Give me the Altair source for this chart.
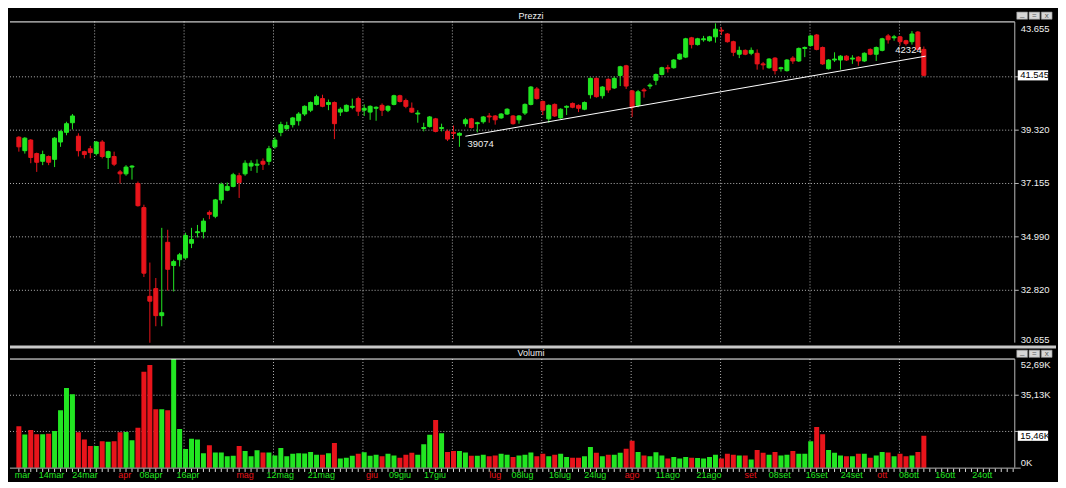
import altair as alt
import pandas as pd

# ---------------- data ----------------
opens = [39035, 38487, 38918, 38369, 38056, 38252, 38135, 38839, 39231, 39622,
         39074, 38448, 38565, 38369, 38839, 38213, 38252, 37626, 37547, 37821,
         37156, 36177, 32575, 32889, 31792, 34768, 33828, 34063, 34141, 34729,
         35159, 35199, 35981, 35825, 36490, 36882, 37038, 37469, 37547, 37861,
         37900, 38056, 38056, 38643, 39231, 39387, 39544, 39701, 39975, 40131,
         40366, 40601, 40366, 40444, 40053, 40092, 40249, 40601, 40131, 40053,
         40209, 40327, 40131, 40366, 40718, 40523, 40209, 39975, 39387, 39466,
         39779, 39387, 39270, 39231, 39113, 39583, 39779, 39583, 39661, 39896,
         39896, 39818, 39975, 39896, 39740, 40014, 40366, 40992, 40484, 39779,
         40366, 39818, 40249, 40405, 40327, 40170, 40758, 41423, 40718, 41384,
         41032, 41541, 41932, 40914, 40327, 40953, 41110, 41345, 41580, 41854,
         41854, 42206, 42285, 43068, 42793, 42989, 42950, 43107, 43381, 43224,
         42911, 42402, 42559, 42441, 42441, 42010, 41854, 42245, 41815, 41736,
         42245, 42128, 42637, 42754, 43185, 42676, 41815, 42167, 42167, 42324,
         42206, 42285, 42128, 42598, 42402, 42559, 43146, 43068, 43107, 42950,
         42911, 43302, 42598]
highs = [39074, 39035, 38957, 38409, 38487, 38291, 39035, 39309, 39661, 39975,
         39192, 38487, 38683, 38878, 38918, 38487, 38448, 37704, 37900, 37900,
         37234, 36294, 33946, 33319, 35355, 35277, 34063, 34337, 35159, 35355,
         35473, 35747, 36060, 36529, 37195, 37195, 37587, 37587, 38096, 38096,
         38135, 38174, 38683, 39035, 39661, 39661, 39857, 40053, 40327, 40484,
         40758, 40758, 40562, 40484, 40249, 40366, 40601, 40679, 40366, 40327,
         40288, 40405, 40327, 40758, 40758, 40601, 40444, 40131, 39622, 39896,
         39818, 39583, 39348, 39505, 39231, 39818, 39818, 39661, 39896, 40014,
         39935, 40014, 40209, 39935, 39935, 40405, 41110, 41071, 40523, 40366,
         40405, 40209, 40327, 40444, 40366, 40484, 41462, 41462, 41110, 41423,
         41502, 41932, 41971, 40953, 40953, 41032, 41227, 41619, 41893, 41971,
         42206, 42441, 43068, 43107, 43068, 43146, 43146, 43655, 43498, 43263,
         42950, 42715, 42598, 42676, 42598, 42089, 42245, 42285, 41893, 42206,
         42324, 42676, 42715, 43185, 43224, 42715, 42206, 42480, 42363, 42363,
         42363, 42324, 42480, 42637, 42715, 43068, 43224, 43185, 43146, 42989,
         43342, 43342, 42715]
lows = [38448, 38369, 37978, 37626, 37900, 37900, 37821, 38643, 39113, 39348,
        38252, 38174, 38174, 38291, 38174, 37743, 37861, 37156, 37469, 37313,
        36216, 33358, 30657, 31361, 31361, 32810, 32771, 33789, 34063, 34533,
        34964, 34924, 35707, 35747, 36334, 36843, 36999, 36568, 37469, 37665,
        37587, 37704, 37900, 38565, 39074, 39309, 39427, 39505, 39896, 40053,
        40327, 40249, 40131, 38957, 39896, 40053, 40170, 39896, 39896, 39740,
        39701, 39896, 40053, 40327, 40444, 40209, 40014, 39622, 39270, 39427,
        39231, 39270, 38878, 38957, 38643, 39466, 39387, 39231, 39583, 39622,
        39544, 39779, 39935, 39544, 39583, 39935, 40327, 40562, 39935, 39622,
        39857, 39779, 39935, 40209, 40053, 40131, 40601, 40640, 40601, 40836,
        40992, 41110, 40992, 39857, 40249, 40640, 40992, 41149, 41541, 41658,
        41815, 42167, 42245, 42637, 42754, 42911, 42911, 42872, 43185, 42872,
        42324, 42245, 42363, 42363, 41776, 41776, 41815, 41580, 41697, 41697,
        42010, 42089, 42285, 42715, 42559, 41971, 41776, 42089, 41776, 42128,
        42010, 41932, 42089, 42363, 42128, 42519, 42833, 42950, 42754, 42754,
        42793, 42559, 41502]
closes = [38643, 38996, 38213, 38017, 38330, 38017, 38996, 39270, 39583, 39896,
          38487, 38330, 38409, 38839, 38252, 38448, 37939, 37547, 37821, 37861,
          36255, 33515, 32379, 31792, 31909, 33672, 33985, 34259, 35042, 34885,
          35199, 35629, 35903, 36490, 37117, 37038, 37508, 37195, 37978, 37978,
          37939, 37939, 38565, 38918, 39544, 39505, 39818, 39975, 40288, 40444,
          40679, 40288, 40444, 39583, 40170, 40327, 40288, 40092, 40209, 40288,
          40249, 40131, 40288, 40718, 40484, 40288, 40053, 40014, 39427, 39857,
          39270, 39427, 38957, 39192, 39192, 39740, 39427, 39622, 39857, 39857,
          39740, 39975, 40170, 39583, 39896, 40366, 41071, 40601, 40131, 40327,
          39896, 40170, 40288, 40249, 40209, 40444, 41423, 40679, 41071, 40953,
          41423, 41893, 41110, 40249, 40875, 40914, 41149, 41580, 41854, 41815,
          42167, 42402, 43028, 42793, 43028, 43028, 43107, 43420, 43342, 42911,
          42480, 42559, 42402, 42559, 42010, 41971, 42206, 41736, 41854, 42167,
          42128, 42637, 42676, 43146, 42598, 42010, 42167, 42206, 42324, 42167,
          42245, 42128, 42441, 42402, 42676, 43028, 42989, 43107, 42911, 42833,
          43224, 42598, 41545]
volumes_k = [20.1, 16.1, 18.3, 16.2, 16.2, 16.5, 17.8, 27.8, 38.6, 35.6,
             17.2, 13.7, 10.5, 10.5, 12.8, 12.5, 12.8, 17.2, 17.3, 13.3,
             19.4, 46.5, 49.8, 28.3, 28.3, 27.8, 52.69, 18.7, 9.1, 14.0,
             13.6, 7.0, 10.9, 7.3, 7.3, 5.5, 5.8, 10.5, 8.1, 5.5,
             8.4, 7.3, 7.3, 5.9, 9.5, 5.5, 6.7, 7.0, 6.9, 7.6,
             6.2, 6.2, 7.0, 11.9, 4.4, 4.8, 5.8, 6.7, 7.5, 5.8,
             6.2, 5.5, 6.7, 5.9, 4.8, 6.2, 7.2, 6.2, 11.4, 15.9,
             23.1, 16.7, 7.6, 8.1, 8.1, 7.3, 5.8, 5.8, 6.2, 5.5,
             5.9, 6.7, 6.2, 5.2, 5.9, 6.2, 7.3, 5.5, 6.7, 5.5,
             6.2, 6.7, 5.2, 4.8, 4.8, 5.5, 10.0, 7.2, 5.5, 6.2,
             6.2, 7.2, 9.2, 13.0, 7.6, 5.9, 5.5, 7.5, 5.9, 4.4,
             5.2, 4.4, 5.2, 4.8, 4.7, 4.4, 5.2, 6.2, 4.4, 6.7,
             6.2, 5.9, 5.9, 3.9, 8.6, 7.2, 6.2, 7.6, 5.9, 6.2,
             8.1, 6.7, 6.7, 12.8, 19.7, 16.2, 8.6, 7.2, 5.9, 5.5,
             5.5, 6.7, 6.7, 4.8, 5.9, 7.6, 7.3, 5.5, 6.7, 5.5,
             5.9, 7.6, 15.46]

price_ticks = [43655, 39320, 37155, 34990, 32820, 30655]
price_tick_text = ["43.655", "39.320", "37.155", "34.990", "32.820", "30.655"]
price_grid = [41485, 39320, 37155, 34990, 32820]
last_price_text = "41.545"
vol_ticks = [52.69, 35.13, 0]
vol_tick_text = ["52,69K", "35,13K", "0K"]
vol_grid = [35.13, 17.56]
last_vol_text = "15,46K"
vgrid_slots = [12.73, 27.75, 42.77, 57.79, 72.81, 87.83, 102.84, 117.86, 132.88, 147.9]
date_labels = ["mar", "14mar", "24mar", "apr", "08apr", "16apr", "mag", "12mag", "21mag",
               "giu", "09giu", "17giu", "lug", "08lug", "16lug", "24lug", "ago", "11ago",
               "21ago", "set", "08set", "16set", "24set", "ott", "08ott", "16ott", "24ott"]
date_label_slots = [0.6, 5.47, 11.1, 17.8, 22.2, 28.4, 38.0, 43.9, 50.8,
                    59.3, 64.0, 69.9, 80.0, 84.6, 90.9, 96.8, 103.0, 109.0,
                    115.9, 122.9, 127.8, 134.0, 139.9, 145.0, 149.5, 155.6, 161.8]
month_labels = ["apr", "mag", "giu", "lug", "ago", "set", "ott"]
axis_tick_slots = list(range(168))
trend_slots = [75.0, 152.3]
trend_values = [39074, 42324]

# ---------------- layout / style ----------------
W, HP, HV = 1050, 335, 137
SX = W / 1066.0
SYP = HP / 346.0
SYV = HV / 142.0
X_DOMAIN = [-0.653, 173.36]
P_DOMAIN = [30696, 44242]
V_DOMAIN = [-6.53, 59.68]
GREEN, RED = "#22e622", "#e8141b"
GRID = "#b4b4b4"
AXIS = "#b8b8b8"
TXT = "#f0f0f0"
FONT = "Liberation Sans"
NARROW = "Liberation Sans Narrow, Liberation Sans"


def px(x):
    return x * SX


def pyp(y):
    return y * SYP


def pyv(y):
    return (y - 346) * SYV


xs = alt.Scale(domain=X_DOMAIN, nice=False, zero=False)
ps = alt.Scale(domain=P_DOMAIN, nice=False, zero=False)
vs = alt.Scale(domain=V_DOMAIN, nice=False, zero=False)
dir_scale = alt.Scale(domain=["up", "down"], range=[GREEN, RED])

df = pd.DataFrame({"slot": list(range(len(opens))), "open": opens, "high": highs,
                   "low": lows, "close": closes, "vol": volumes_k})
df["dir"] = ["up" if c >= o else "down" for o, c in zip(opens, closes)]
one = pd.DataFrame({"k": [0]})

XS = alt.X("slot:Q", scale=xs, axis=None)
BTN = "M-1,-0.67H1V0.67H-1Z"
BOX = "M-1,-0.334H1V0.334H-1Z"


def buttons(yc):
    out = []
    for xr, g in zip([1031.5, 1044.0, 1056.5], ["_", "=", "x"]):
        out.append(alt.Chart(one).mark_point(shape=BTN, filled=True, size=117, color="#d6d6d6",
                                             stroke="#8a8a8a", strokeWidth=0.6, opacity=1)
                   .encode(x=alt.value(px(xr)), y=alt.value(yc)))
        out.append(alt.Chart(one).mark_text(text=g, color="#5a5a5a", fontSize=8, font=FONT,
                                            align="center", baseline="middle")
                   .encode(x=alt.value(px(xr)), y=alt.value(yc - (2 if g == "_" else 0))))
    return out


# ---------------- price panel ----------------
p_hgrid = alt.Chart(pd.DataFrame({"v": price_grid})).mark_rule(
    color=GRID, strokeDash=[1, 2], strokeWidth=1).encode(
    x=alt.value(0), x2=alt.value(px(1024)), y=alt.Y("v:Q", scale=ps, axis=None))
p_vgrid = alt.Chart(pd.DataFrame({"s": vgrid_slots})).mark_rule(
    color=GRID, strokeDash=[1, 2], strokeWidth=1).encode(
    x=alt.X("s:Q", scale=xs, axis=None), y=alt.value(pyp(13)), y2=alt.value(HP))
wick = alt.Chart(df).mark_rule(strokeWidth=1, clip=True).encode(
    x=XS, y=alt.Y("low:Q", scale=ps, axis=None), y2="high:Q",
    color=alt.Color("dir:N", scale=dir_scale, legend=None))
body = alt.Chart(df).mark_bar(size=4, strokeWidth=1, clip=True).encode(
    x=XS, y=alt.Y("open:Q", scale=ps, axis=None), y2="close:Q",
    fill=alt.Fill("dir:N", scale=dir_scale, legend=None),
    stroke=alt.Stroke("dir:N", scale=dir_scale, legend=None))

tr = pd.DataFrame({"s": trend_slots, "v": trend_values})
trend = alt.Chart(tr).mark_line(color="white", strokeWidth=1).encode(
    x=alt.X("s:Q", scale=xs, axis=None), y=alt.Y("v:Q", scale=ps, axis=None))
trend_l0 = alt.Chart(tr.iloc[[0]]).mark_text(
    align="left", baseline="top", dx=2, dy=3, color=TXT, fontSize=9.5, font=FONT).encode(
    x=alt.X("s:Q", scale=xs, axis=None), y=alt.Y("v:Q", scale=ps, axis=None),
    text=alt.Text("v:Q", format="d"))
trend_l1 = alt.Chart(tr.iloc[[1]]).mark_text(
    align="right", baseline="alphabetic", dx=-4, dy=-3, color=TXT, fontSize=9.5, font=FONT).encode(
    x=alt.X("s:Q", scale=xs, axis=None), y=alt.Y("v:Q", scale=ps, axis=None),
    text=alt.Text("v:Q", format="d"))

p_top = alt.Chart(one).mark_rule(color="white", strokeWidth=1).encode(
    x=alt.value(0), x2=alt.value(px(1024)), y=alt.value(pyp(13.5)))
p_axis = alt.Chart(one).mark_rule(color=AXIS, strokeWidth=1).encode(
    x=alt.value(px(1024)), y=alt.value(pyp(13.5)), y2=alt.value(HP))
p_ticks = alt.Chart(pd.DataFrame({"v": price_grid})).mark_rule(color=AXIS).encode(
    x=alt.value(px(1024)), x2=alt.value(px(1028)), y=alt.Y("v:Q", scale=ps, axis=None))

pl = pd.DataFrame({"v": price_ticks, "t": price_tick_text})
lab_kw = dict(align="left", color=TXT, fontSize=9.5, font=FONT)
p_lab_top = alt.Chart(pl.iloc[[0]]).mark_text(baseline="top", dy=1, **lab_kw).encode(
    x=alt.value(px(1030)), y=alt.Y("v:Q", scale=ps, axis=None), text="t:N")
p_lab_mid = alt.Chart(pl.iloc[1:-1]).mark_text(baseline="middle", **lab_kw).encode(
    x=alt.value(px(1030)), y=alt.Y("v:Q", scale=ps, axis=None), text="t:N")
p_lab_bot = alt.Chart(pl.iloc[[-1]]).mark_text(baseline="alphabetic", dy=-1, **lab_kw).encode(
    x=alt.value(px(1030)), y=alt.Y("v:Q", scale=ps, axis=None), text="t:N")

lp = pd.DataFrame({"v": [closes[-1]], "t": [last_price_text]})
p_box = alt.Chart(lp).mark_point(shape=BOX, filled=True, size=930, color="white", opacity=1).encode(
    x=alt.value(px(1042.5)), y=alt.Y("v:Q", scale=ps, axis=None))
p_box_t = alt.Chart(lp).mark_text(align="left", baseline="middle", color="black",
                                  fontSize=9.5, font=FONT).encode(
    x=alt.value(px(1029.5)), y=alt.Y("v:Q", scale=ps, axis=None), text="t:N")

p_title = alt.Chart(one).mark_text(text="Prezzi", color=TXT, fontSize=9, font=FONT,
                                   align="center", baseline="middle").encode(
    x=alt.value(px(531)), y=alt.value(pyp(7.3)))

price = alt.layer(p_hgrid, p_vgrid, wick, body, trend, trend_l0, trend_l1, p_top, p_axis,
                  p_ticks, p_lab_top, p_lab_mid, p_lab_bot, p_box, p_box_t, p_title,
                  *buttons(pyp(7.0))).properties(width=W, height=HP)

# ---------------- volume panel ----------------
v_hgrid = alt.Chart(pd.DataFrame({"v": vol_grid})).mark_rule(
    color=GRID, strokeDash=[1, 2], strokeWidth=1).encode(
    x=alt.value(0), x2=alt.value(px(1024)), y=alt.Y("v:Q", scale=vs, axis=None))
v_vgrid = alt.Chart(pd.DataFrame({"s": vgrid_slots})).mark_rule(
    color=GRID, strokeDash=[1, 2], strokeWidth=1).encode(
    x=alt.X("s:Q", scale=xs, axis=None), y=alt.value(pyv(361)), y2=alt.value(pyv(474)))
v_bars = alt.Chart(df).mark_bar(size=5, clip=True).encode(
    x=XS, y=alt.Y("vol:Q", scale=vs, axis=None), y2=alt.datum(0),
    color=alt.Color("dir:N", scale=dir_scale, legend=None))
v_sep = alt.Chart(one).mark_rule(color="#c8c8c8", strokeWidth=3).encode(
    x=alt.value(0), x2=alt.value(W), y=alt.value(pyv(348.5)))
v_top = alt.Chart(one).mark_rule(color="white", strokeWidth=1).encode(
    x=alt.value(0), x2=alt.value(px(1024)), y=alt.value(pyv(361)))
v_axis = alt.Chart(one).mark_rule(color=AXIS, strokeWidth=1).encode(
    x=alt.value(px(1024)), y=alt.value(pyv(361)), y2=alt.value(pyv(474)))
v_base = alt.Chart(one).mark_rule(color=AXIS, strokeWidth=1).encode(
    x=alt.value(0), x2=alt.value(px(1030)), y=alt.value(pyv(474.5)))
v_xticks = alt.Chart(pd.DataFrame({"s": axis_tick_slots})).mark_rule(color="#d8d8d8", clip=True).encode(
    x=alt.X("s:Q", scale=xs, axis=None), y=alt.value(pyv(475)), y2=alt.value(pyv(478.5)))
dl = pd.DataFrame({"s": date_label_slots, "t": date_labels,
                   "k": ["month" if t in month_labels else "day" for t in date_labels]})
v_dates = alt.Chart(dl).mark_text(fontSize=9, font=NARROW, align="center", baseline="middle").encode(
    x=alt.X("s:Q", scale=xs, axis=None), y=alt.value(pyv(482)), text="t:N",
    color=alt.Color("k:N", scale=alt.Scale(domain=["day", "month"], range=["#eee2a0", "#d82020"]),
                    legend=None))
vl = pd.DataFrame({"v": vol_ticks, "t": vol_tick_text})
v_lab_top = alt.Chart(vl.iloc[[0]]).mark_text(baseline="top", dy=1, **lab_kw).encode(
    x=alt.value(px(1030)), y=alt.Y("v:Q", scale=vs, axis=None), text="t:N")
v_lab_mid = alt.Chart(vl.iloc[[1]]).mark_text(baseline="middle", **lab_kw).encode(
    x=alt.value(px(1030)), y=alt.Y("v:Q", scale=vs, axis=None), text="t:N")
v_lab_bot = alt.Chart(vl.iloc[[2]]).mark_text(baseline="alphabetic", dy=-2, **lab_kw).encode(
    x=alt.value(px(1030)), y=alt.Y("v:Q", scale=vs, axis=None), text="t:N")
v_ticks = alt.Chart(pd.DataFrame({"v": vol_grid})).mark_rule(color=AXIS).encode(
    x=alt.value(px(1024)), x2=alt.value(px(1028)), y=alt.Y("v:Q", scale=vs, axis=None))
lv = pd.DataFrame({"v": [volumes_k[-1]], "t": [last_vol_text]})
v_box = alt.Chart(lv).mark_point(shape=BOX, filled=True, size=930, color="white", opacity=1).encode(
    x=alt.value(px(1042.5)), y=alt.Y("v:Q", scale=vs, axis=None))
v_box_t = alt.Chart(lv).mark_text(align="left", baseline="middle", color="black",
                                  fontSize=9.5, font=FONT).encode(
    x=alt.value(px(1029.5)), y=alt.Y("v:Q", scale=vs, axis=None), text="t:N")
v_title = alt.Chart(one).mark_text(text="Volumi", color=TXT, fontSize=9, font=FONT,
                                   align="center", baseline="middle").encode(
    x=alt.value(px(531)), y=alt.value(pyv(355)))

volume = alt.layer(v_hgrid, v_vgrid, v_bars, v_sep, v_top, v_axis, v_base, v_xticks, v_dates,
                   v_ticks, v_lab_top, v_lab_mid, v_lab_bot, v_box, v_box_t, v_title,
                   *buttons(pyv(355.5))).properties(width=W, height=HV)

chart = alt.vconcat(price, volume, spacing=0).properties(
    background="#000000", padding=0).configure_view(strokeWidth=0).configure_concat(spacing=0)

chart.save("out.html", embed_options={"renderer": "svg", "actions": False})
